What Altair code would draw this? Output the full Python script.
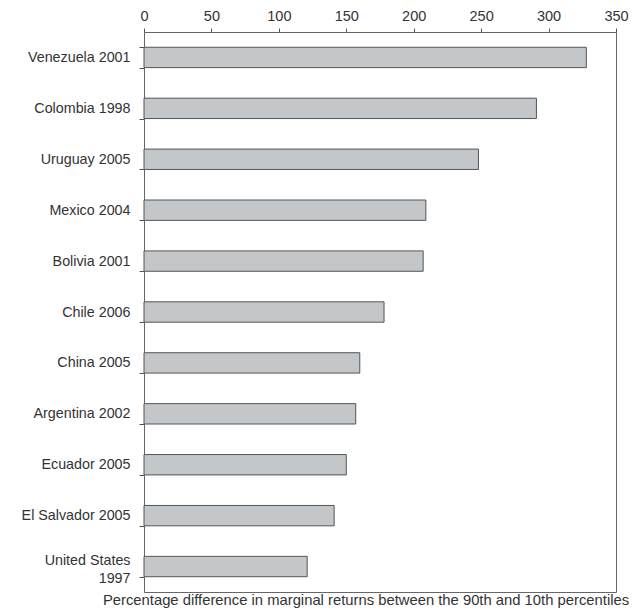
import altair as alt
import pandas as pd

countries = ["Venezuela 2001", "Colombia 1998", "Uruguay 2005", "Mexico 2004",
             "Bolivia 2001", "Chile 2006", "China 2005", "Argentina 2002",
             "Ecuador 2005", "El Salvador 2005", "United States 1997"]
values = [328, 291, 248, 209, 207, 178, 160, 157, 150, 141, 121]
x_ticks = [0, 50, 100, 150, 200, 250, 300, 350]

df = pd.DataFrame({"country": countries, "value": values})

FONT = "Liberation Sans"
BL = "\u2800"  # blank glyph used as an invisible spacer line
label_expr = (
    "datum.value == 'United States 1997' ? "
    f"['United States', '{BL}', '{BL}', '1997'] : ['{BL}', datum.label]"
)

chart = alt.Chart(df).mark_bar(
    fill="#c3c7c9", stroke="#555555", strokeWidth=1
).encode(
    x=alt.X("value:Q",
            scale=alt.Scale(domain=[0, 350], nice=False),
            axis=alt.Axis(orient="top", values=x_ticks, title=None, grid=False,
                          labelFontSize=14.5, labelColor="#333333", labelFont=FONT,
                          tickSize=4, tickColor="#555555", domainColor="#666666",
                          labelPadding=5, labelFlush=False)),
    y=alt.Y("country:N", sort=None,
            scale=alt.Scale(paddingInner=0.6, paddingOuter=0.3),
            axis=alt.Axis(title=None, tickBand="extent", tickSize=5,
                          tickColor="#555555", domainColor="#666666",
                          labelFontSize=14.3, labelColor="#333333", labelFont=FONT,
                          labelPadding=9, labelLineHeight=6, labelOffset=-6,
                          labelExpr=label_expr)),
).properties(
    width=472,
    height=560,
    title=alt.TitleParams(
        "Percentage difference in marginal returns between the 90th and 10th percentiles",
        orient="bottom", fontSize=14.8, fontWeight="normal", font=FONT,
        color="#333333", offset=1, anchor="middle", dx=-14),
    autosize=alt.AutoSizeParams(type="none"),
    padding={"left": 136, "top": 24, "right": 17, "bottom": 23},
).configure_view(stroke="#666666", strokeWidth=1)

chart.save("out.html", embed_options={"renderer": "svg", "actions": False})
